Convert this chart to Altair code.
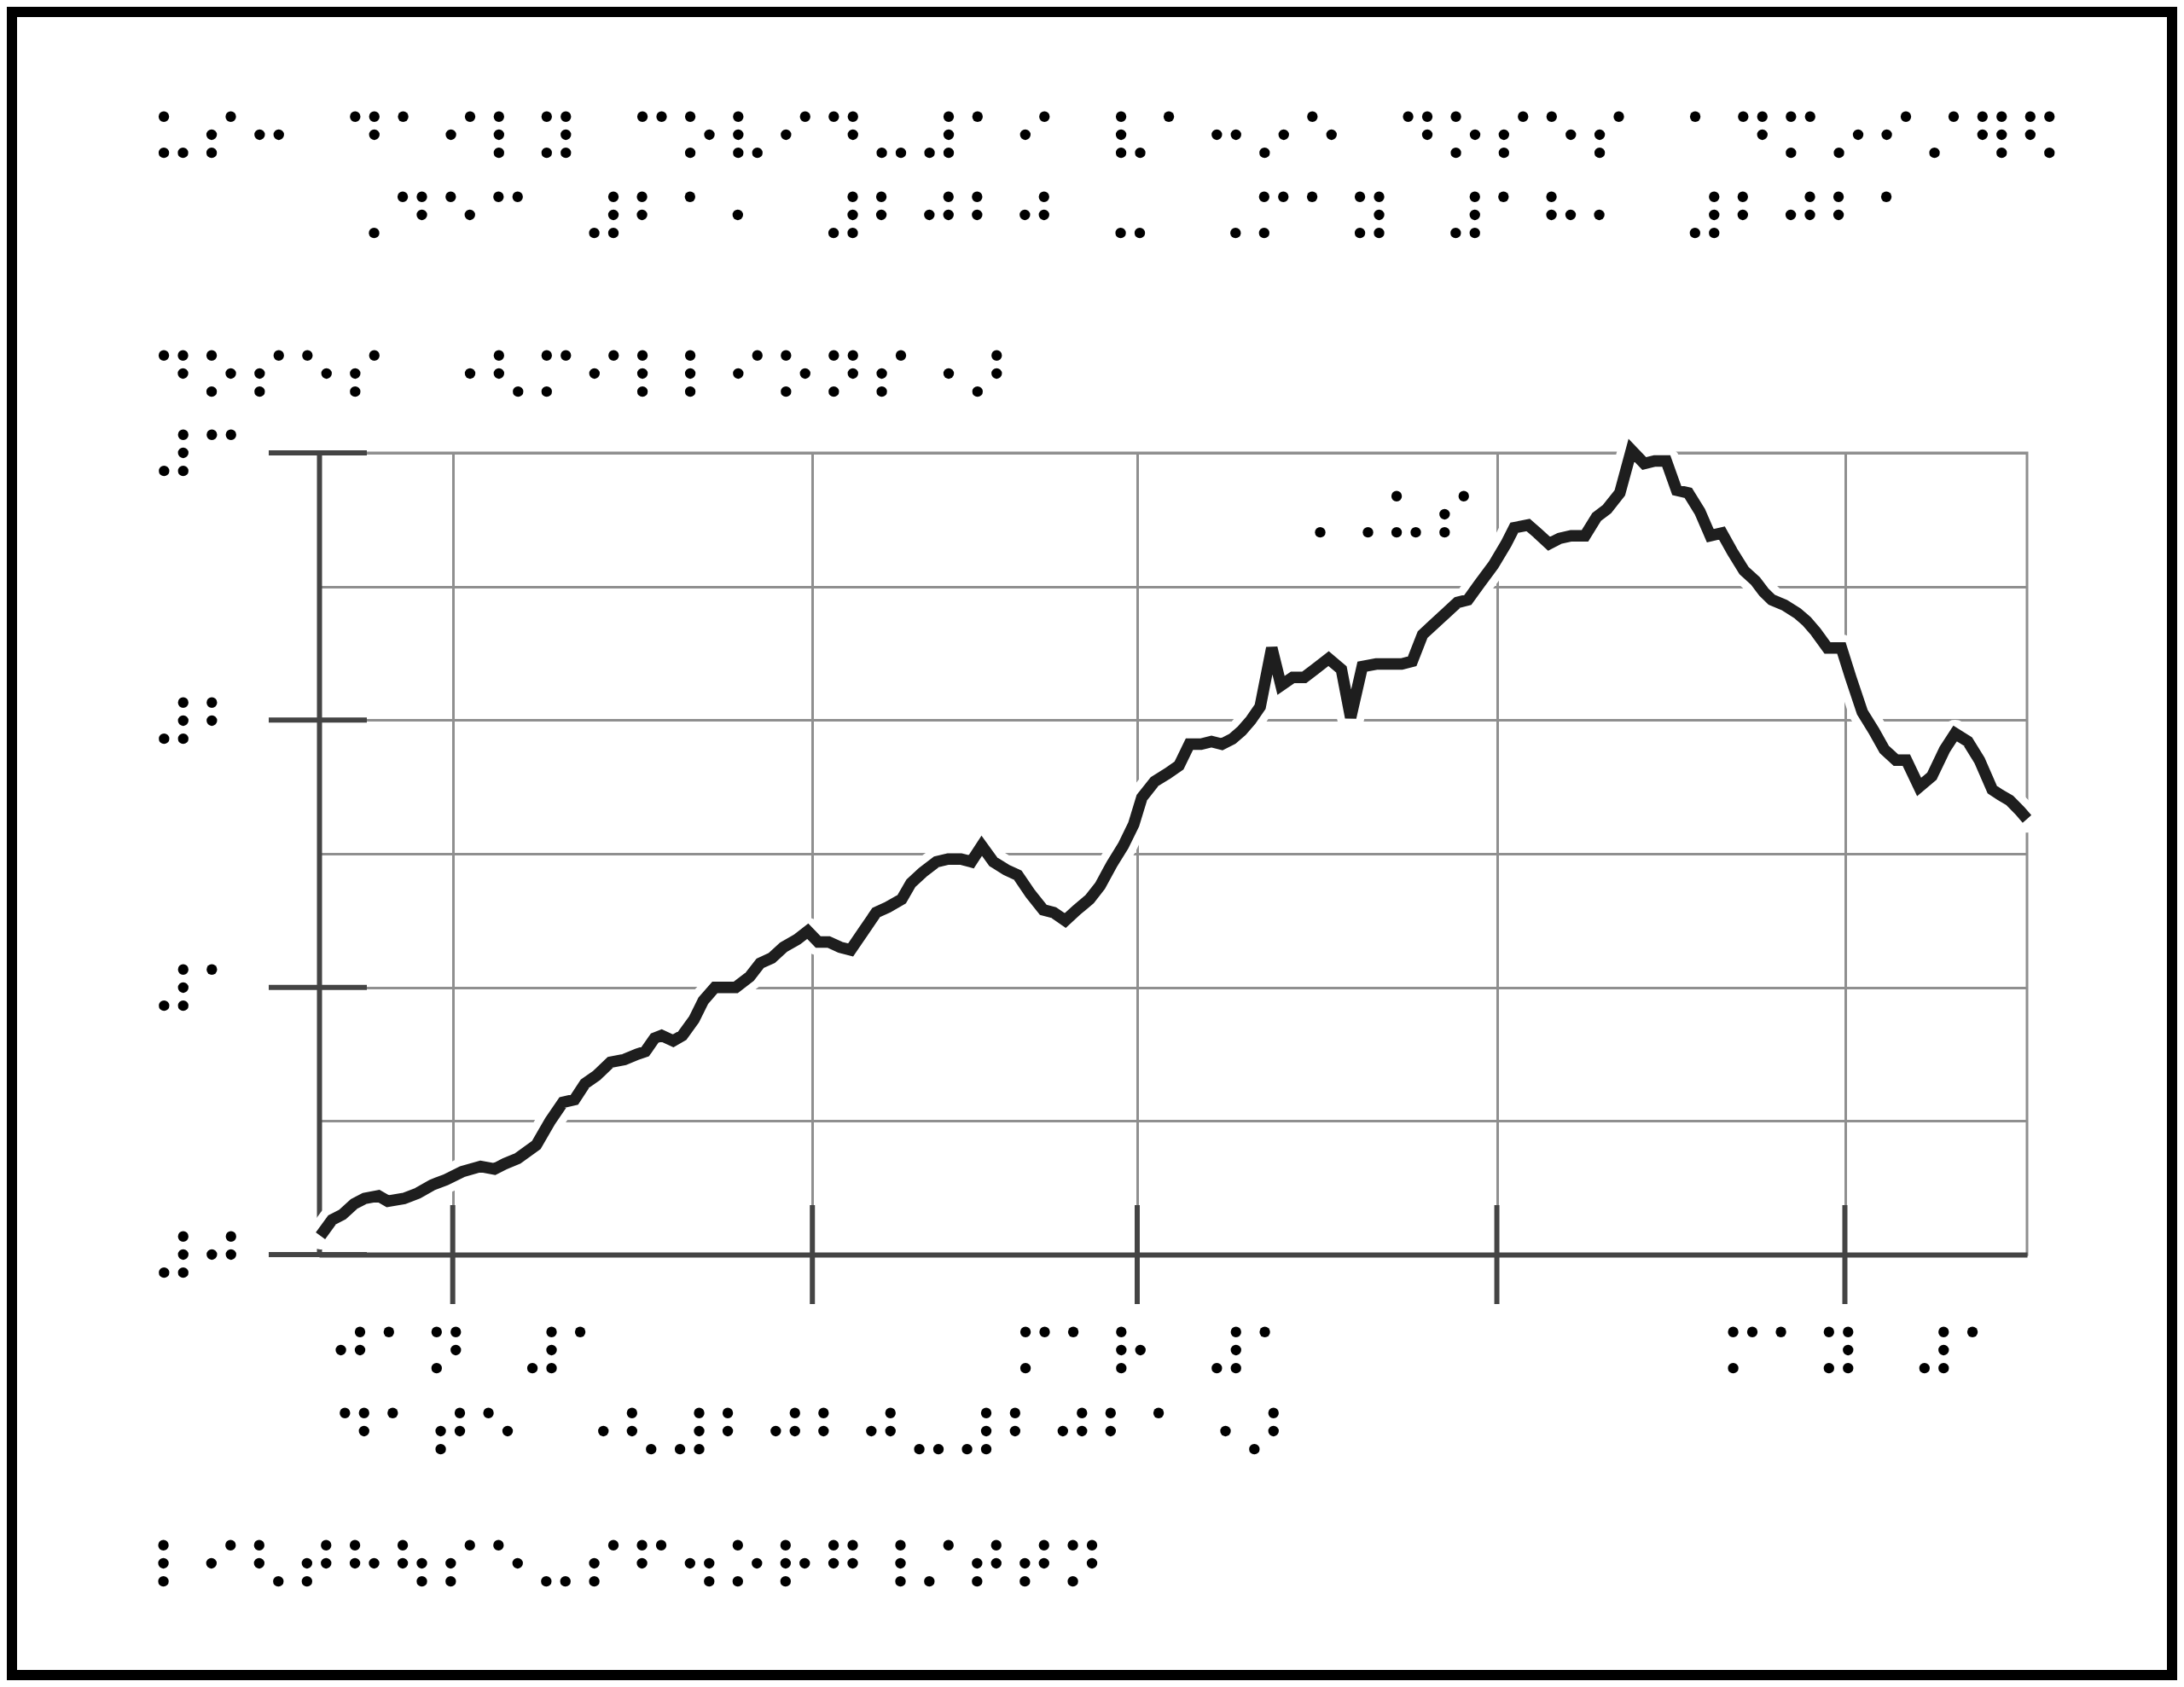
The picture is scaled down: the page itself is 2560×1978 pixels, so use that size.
import altair as alt
import pandas as pd

FONT = "DejaVu Serif"
F = 76.6
BEAR = 16.8      # text start -> first dot column centre
MID = 32.9       # middle dot row above alphabetic baseline

title_lines = [
    "⠥⠎⠒⠀⠙⠁⠊⠇⠽⠀⠉⠕⠧⠊⠙⠤⠼⠁⠊⠀⠧⠁⠒⠔⠑⠀⠙⠕⠎⠑⠎⠀⠁⠙⠍⠔⠊⠌⠻⠫",
    "⠠⠙⠑⠉⠀⠼⠃⠁⠂⠀⠼⠃⠚⠃⠚⠀⠤⠀⠠⠍⠁⠽⠀⠼⠁⠓⠂⠀⠼⠃⠚⠃⠁",
]
y_axis_title = "⠙⠕⠎⠑⠎⠀⠐⠣⠍⠊⠇⠇⠊⠕⠝⠎⠐⠜"
x_axis_title = "⠙⠁⠞⠑⠀⠐⠣⠼⠃⠚⠃⠚⠤⠼⠃⠚⠃⠁⠐⠜"
footnote = "⠇⠊⠣⠞⠓⠳⠎⠑⠤⠎⠋⠲⠕⠗⠛⠸⠌⠞⠞⠝"
annotation_text = "⠠⠠⠥⠎"

y_grid_values = [0, 0.5, 1, 1.5, 2, 2.5, 3]
y_tick_values = [0, 1, 2, 3]
y_tick_labels = ["⠼⠚", "⠼⠁", "⠼⠃", "⠼⠉"]

x_tick_months = [(2021, 1), (2021, 2), (2021, 3), (2021, 4), (2021, 5)]
x_tick_dates = ["2021-01-01", "2021-02-01", "2021-03-01", "2021-04-01", "2021-05-01"]
x_tick_labels = ["⠚⠁⠝⠀⠼⠁", "", "⠍⠁⠗⠀⠼⠁", "", "⠍⠁⠽⠀⠼⠁"]

start_date = "2020-12-21"
day_offsets = [
    -0.4, 0.6, 1.5, 2.5, 3.4, 4.6, 5.4, 6.8, 8.0, 9.2,
    10.4, 11.8, 13.4, 14.6, 15.5, 16.6, 18.2, 19.4, 20.5, 21.5,
    22.4, 23.4, 24.6, 25.8, 26.9, 27.6, 28.4, 29.0, 30.0, 30.8,
    31.8, 32.6, 33.6, 34.4, 35.4, 36.6, 37.5, 38.5, 39.5, 40.7,
    41.6, 42.5, 43.4, 44.4, 45.3, 46.4, 47.5, 48.5, 49.7, 50.5,
    51.5, 52.7, 53.7, 54.8, 55.7, 56.6, 57.6, 58.7, 59.7, 60.8,
    61.9, 62.8, 63.8, 64.8, 65.9, 66.8, 67.8, 68.8, 69.7, 70.4,
    71.5, 72.6, 73.6, 74.5, 75.5, 76.4, 77.3, 78.2, 79.0, 79.8,
    80.6, 81.6, 82.4, 83.4, 84.4, 85.3, 86.5, 87.6, 88.4, 89.4,
    90.6, 91.7, 92.8, 93.7, 94.6, 95.6, 96.6, 97.6, 98.5, 99.5,
    100.7, 101.8, 102.5, 103.7, 104.5, 105.5, 106.4, 107.4, 108.6, 109.6,
    110.5, 111.6, 112.6, 113.7, 114.6, 115.6, 116.5, 117.5, 118.5, 119.4,
    120.4, 121.3, 122.3, 123.3, 124.0, 124.7, 125.8, 126.9, 127.7, 128.5,
    129.5, 130.7, 131.5, 132.5, 133.5, 134.4, 135.4, 136.3, 137.4, 138.5,
    139.6, 140.5, 141.6, 142.6, 143.7, 144.4, 145.2, 146.1, 146.7,
]
doses_millions = [
    0.07, 0.13, 0.15, 0.19, 0.21, 0.22, 0.20, 0.21, 0.23, 0.26,
    0.28, 0.31, 0.33, 0.32, 0.34, 0.36, 0.41, 0.50, 0.57, 0.58,
    0.64, 0.67, 0.72, 0.73, 0.75, 0.76, 0.81, 0.82, 0.80, 0.82,
    0.88, 0.95, 1.00, 1.00, 1.00, 1.04, 1.09, 1.11, 1.15, 1.18,
    1.21, 1.17, 1.17, 1.15, 1.14, 1.21, 1.28, 1.30, 1.33, 1.39,
    1.43, 1.47, 1.48, 1.48, 1.47, 1.53, 1.47, 1.44, 1.42, 1.35,
    1.29, 1.28, 1.25, 1.29, 1.33, 1.38, 1.46, 1.53, 1.61, 1.71,
    1.77, 1.80, 1.83, 1.91, 1.91, 1.92, 1.91, 1.93, 1.96, 2.00,
    2.05, 2.27, 2.13, 2.16, 2.16, 2.19, 2.23, 2.19, 2.01, 2.20,
    2.21, 2.21, 2.21, 2.22, 2.32, 2.36, 2.40, 2.44, 2.45, 2.51,
    2.58, 2.66, 2.72, 2.73, 2.70, 2.66, 2.68, 2.69, 2.69, 2.76,
    2.79, 2.85, 3.01, 2.96, 2.97, 2.97, 2.86, 2.85, 2.78, 2.69,
    2.70, 2.63, 2.56, 2.52, 2.48, 2.45, 2.43, 2.40, 2.37, 2.33,
    2.27, 2.27, 2.16, 2.03, 1.96, 1.89, 1.85, 1.85, 1.75, 1.79,
    1.89, 1.95, 1.92, 1.85, 1.74, 1.72, 1.70, 1.66, 1.63,
]
annotation_day = 82.88
annotation_value = 2.665

W, H = 2002, 940
PAD = {"left": 366, "top": 523, "right": 176, "bottom": 499}

base = pd.Timestamp(start_date)
line_df = pd.DataFrame({
    "date": [base + pd.to_timedelta(d, unit="D") for d in day_offsets],
    "value": doses_millions,
})
xticks_df = pd.DataFrame({"date": pd.to_datetime(x_tick_dates)})
yticks_df = pd.DataFrame({"value": y_tick_values})
ann_df = pd.DataFrame({
    "date": [base + pd.to_timedelta(annotation_day, unit="D")],
    "value": [annotation_value],
    "label": [annotation_text],
})
one = pd.DataFrame({"a": [0]})

x_label_expr = " : ".join(
    f"month(datum.value) == {m - 1} ? '{lab}'" for (y, m), lab in zip(x_tick_months, x_tick_labels)
) + " : ''"
y_label_expr = " : ".join(
    f"datum.value == {v} ? '{lab}'" for v, lab in zip(y_tick_values, y_tick_labels)
) + " : ''"

x_scale = alt.Scale(domain=[
    alt.DateTime(year=2020, month=12, date=20, hours=11, minutes=30),
    alt.DateTime(year=2021, month=5, date=16, hours=16, minutes=48),
])
y_scale = alt.Scale(domain=[0, 3], nice=False, zero=False)

GRID = "#8f8f8f"
AXIS = "#444444"

x_axis = alt.Axis(
    values=[alt.DateTime(year=y, month=m, date=1) for (y, m) in x_tick_months],
    labelExpr=x_label_expr, grid=True, gridColor=GRID, gridWidth=3,
    domain=True, domainColor=AXIS, domainWidth=6, ticks=False,
    labelPadding=112 + MID, labelBaseline="alphabetic", labelAlign="center", labelOffset=20,
    labelFont=FONT, labelFontSize=F, labelColor="black", labelOverlap=False, labelFlush=False,
    labelLimit=0,
    title=x_axis_title, titleFont=FONT, titleFontSize=F, titleFontWeight="normal",
    titleColor="black", titleAlign="left", titleAnchor="start", titleBaseline="alphabetic",
    titleX=29.8 - BEAR, titleY=207 + MID, titleLimit=0,
)
y_axis = alt.Axis(
    values=y_grid_values, labelExpr=y_label_expr, grid=True, gridColor=GRID, gridWidth=3,
    domain=True, domainColor=AXIS, domainWidth=6, ticks=False,
    labelPadding=182.3 + BEAR, labelAlign="left", labelBaseline="alphabetic", labelOffset=MID,
    labelFont=FONT, labelFontSize=F, labelColor="black", labelOverlap=False, labelFlush=False,
    labelLimit=0,
    title=y_axis_title, titleFont=FONT, titleFontSize=F, titleFontWeight="normal",
    titleColor="black", titleAngle=0, titleAlign="left", titleBaseline="alphabetic",
    titleX=-182.5 - BEAR, titleY=-93 + MID, titleLimit=0,
)

halo = alt.Chart(line_df).mark_line(color="white", strokeWidth=32, strokeCap="round", strokeJoin="round").encode(
    x=alt.X("date:T", scale=x_scale, axis=x_axis),
    y=alt.Y("value:Q", scale=y_scale, axis=y_axis),
)
line = alt.Chart(line_df).mark_line(color="#1e1e1e", strokeWidth=13.5, strokeCap="butt", strokeJoin="miter").encode(
    x="date:T", y="value:Q",
)
xticks = alt.Chart(xticks_df).mark_rule(color=AXIS, strokeWidth=6).encode(
    x="date:T", y=alt.value(H - 58), y2=alt.value(H + 58),
)
yticks = alt.Chart(yticks_df).mark_rule(color=AXIS, strokeWidth=6).encode(
    y="value:Q", x=alt.value(-59), x2=alt.value(56),
)
ann = alt.Chart(ann_df).mark_text(font=FONT, fontSize=F, align="left", baseline="alphabetic", color="black").encode(
    x="date:T", y="value:Q", text="label:N",
)
title1 = alt.Chart(one).mark_text(font=FONT, fontSize=F, align="left", baseline="alphabetic", color="black").encode(
    x=alt.value(-182 - BEAR), y=alt.value(-372.5 + MID), text=alt.value(title_lines[0]),
)
title2 = alt.Chart(one).mark_text(font=FONT, fontSize=F, align="left", baseline="alphabetic", color="black").encode(
    x=alt.value(42 - BEAR), y=alt.value(-279 + MID), text=alt.value(title_lines[1]),
)
foot = alt.Chart(one).mark_text(font=FONT, fontSize=F, align="left", baseline="alphabetic", color="black").encode(
    x=alt.value(-182.4 - BEAR), y=alt.value(1302 + MID), text=alt.value(footnote),
)
frame = alt.Chart(one).mark_rect(fillOpacity=0, stroke="black", strokeWidth=12).encode(
    x=alt.value(-PAD["left"] + 6), x2=alt.value(W + PAD["right"] - 6),
    y=alt.value(-PAD["top"] + 6), y2=alt.value(H + PAD["bottom"] - 6),
)

chart = alt.layer(
    halo, line, xticks, yticks, ann, title1, title2, foot, frame
).properties(
    width=W, height=H, padding=PAD, autosize=alt.AutoSizeParams(type="none"),
    background="white",
).configure_view(stroke=GRID, strokeWidth=3)

chart.save("out.html", embed_options={"renderer": "svg", "actions": False})
